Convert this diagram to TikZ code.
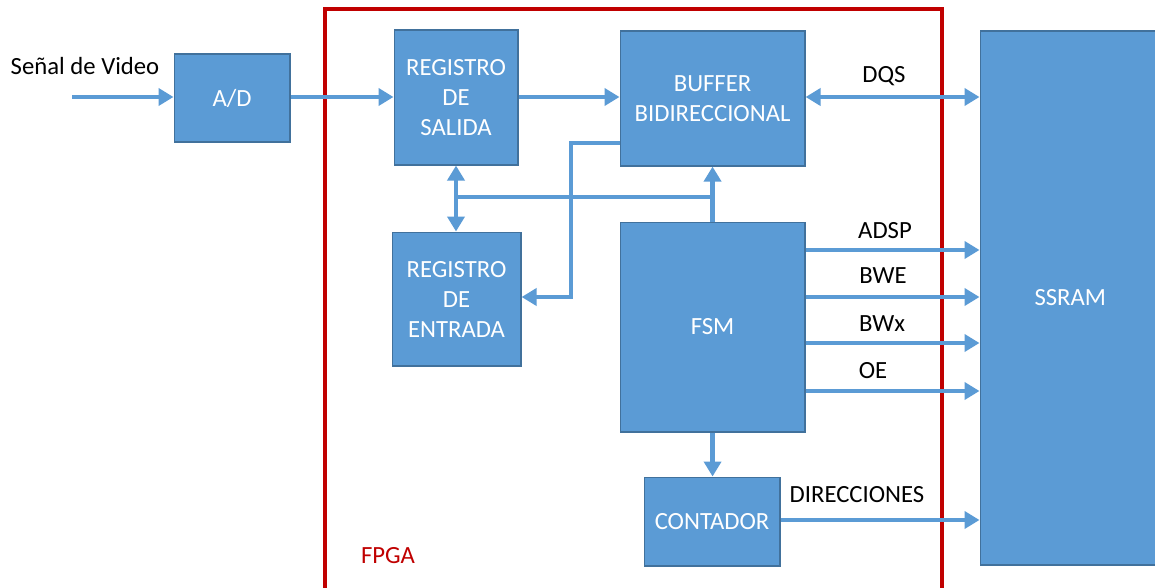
\documentclass[tikz,border=0pt]{standalone}
\usepackage{fontspec}
\setmainfont{Carlito}
\usetikzlibrary{arrows.meta}
\definecolor{bl}{HTML}{5B9BD5}
\definecolor{bd}{HTML}{41719C}
\definecolor{fp}{HTML}{C00000}
\tikzset{x=1pt,y=-1pt,
 blockbox/.style={draw=bd,line width=1.6pt,fill=bl,text=white,align=center,inner sep=0pt,font=\fontsize{24.7}{30}\selectfont},
 conn/.style={draw=bl,line width=4.8pt,-{Triangle[length=15pt,width=17pt]}},
 plain/.style={draw=bl,line width=4.8pt},
 both/.style={draw=bl,line width=4.8pt,{Triangle[length=15pt,width=17pt]}-{Triangle[length=15pt,width=17pt]}},
 lab/.style={text=black,inner sep=0pt,font=\fontsize{24.7}{30}\selectfont}}
\newcommand{\blk}[6][]{\node[blockbox,minimum width=#4pt,minimum height=#5pt,anchor=north west] (#1) at (#2,#3) {#6};}
\begin{document}
\begin{tikzpicture}
\useasboundingbox (0,0) rectangle (1155,588);
\fill[white] (0,0) rectangle (1155,588);
\coordinate (fa) at (325,9);
\coordinate (fb) at (942,9);
\coordinate (fc) at (942,590);
\coordinate (fd) at (325,590);
\draw[fp,line width=3.5pt] (fd) -- (fa) -- (fb) -- (fc);
\blk[ad]{173.5}{53.5}{115.5}{87.5}{A/D}
\blk[sal]{393.5}{29.5}{123.5}{134.5}{REGISTRO\\DE\\SALIDA}
\blk[buf]{619.5}{30.5}{184.5}{134.5}{BUFFER\\BIDIRECCIONAL}
\blk[ent]{391.5}{231.5}{128.5}{133.5}{REGISTRO\\DE\\ENTRADA}
\blk[fsm]{619.5}{221.5}{184.5}{209.5}{FSM}
\blk[cnt]{643.5}{476.5}{135.5}{88.5}{CONTADOR}
\blk[ram]{979.5}{30.5}{180}{533.5}{SSRAM}
\node[lab] (sv) at (85,66) {Señal de Video};
\node[text=fp,inner sep=0pt,font=\fontsize{24.7}{30}\selectfont] (fl) at (388,556) {FPGA};
\node[lab] (dqs) at (884,76) {DQS};
\node[lab] (adsp) at (885,231) {ADSP};
\node[lab] (bwe) at (883,276) {BWE};
\node[lab] (bwx) at (882,324) {BWx};
\node[lab] (oe) at (873,371) {OE};
\node[lab] (dir) at (857,495) {DIRECCIONES};
\coordinate (vs) at (72,97);
\draw[conn] (vs) -- (ad.west |- vs);
\draw[conn] (ad.east |- vs) -- (sal.west |- vs);
\draw[conn] (sal.east |- vs) -- (buf.west |- vs);
\draw[both] (buf.east |- 0,97) -- (ram.west |- 0,97);
\draw[conn] (fsm.east |- 0,250) -- (ram.west |- 0,250);
\draw[conn] (fsm.east |- 0,297) -- (ram.west |- 0,297);
\draw[conn] (fsm.east |- 0,343) -- (ram.west |- 0,343);
\draw[conn] (fsm.east |- 0,391) -- (ram.west |- 0,391);
\draw[conn] (cnt.east |- 0,520) -- (ram.west |- 0,520);
\draw[conn] (fsm.south) -- (cnt.north -| fsm.south);
\draw[conn] (fsm.north) -- (buf.south);
\draw[both] (sal.south -| 456,0) -- (ent.north -| 456,0);
\draw[plain] (456,197) -- (712,197);
\draw[conn] (buf.west |- 0,143) -- (571,143) -- (571,297) -- (ent.east |- 0,297);
\end{tikzpicture}
\end{document}
